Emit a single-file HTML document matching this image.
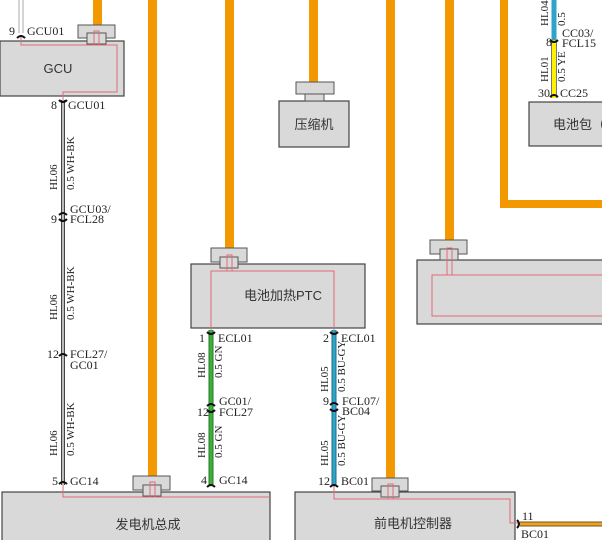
<!DOCTYPE html>
<html><head><meta charset="utf-8"><style>
html,body{margin:0;padding:0;background:#fff;}
svg{display:block;}
text{font-family:"Liberation Serif","Noto Serif CJK SC",serif;fill:#222;}
.cn{font-family:"Liberation Sans","Noto Sans CJK SC",sans-serif;font-size:13px;fill:#333;}
.lb{font-size:12px;}
.sm{font-size:11px;fill:#555;}
</style></head><body>
<svg width="602" height="540" viewBox="0 0 602 540" xmlns="http://www.w3.org/2000/svg">
<g fill="#f39800">
<rect x="93" y="0" width="9" height="26"/>
<rect x="148" y="0" width="9" height="478"/>
<rect x="225" y="0" width="9" height="250"/>
<rect x="309" y="0" width="9" height="84"/>
<rect x="386" y="0" width="9" height="480"/>
<rect x="445" y="0" width="9" height="242"/>
<rect x="500" y="0" width="8" height="208"/>
<rect x="500" y="200" width="102" height="8"/>
</g>
<line x1="19" y1="0" x2="19" y2="33" stroke="#aaa" stroke-width="1"/>
<line x1="23" y1="0" x2="23" y2="33" stroke="#aaa" stroke-width="1"/>
<g fill="#d9d9d9" stroke="#444" stroke-width="1.2">
<rect x="0" y="41" width="124" height="55"/>
<rect x="279" y="101" width="70" height="46"/>
<rect x="191" y="264" width="174" height="64"/>
<rect x="417" y="260" width="190" height="64"/>
<rect x="529" y="102" width="80" height="44"/>
<rect x="2" y="492" width="268" height="52"/>
<rect x="295" y="492" width="220" height="52"/>
</g>
<g fill="#d9d9d9" stroke="#555" stroke-width="1">
<rect x="78" y="25" width="37" height="13"/><rect x="87" y="33" width="19" height="11"/>
<rect x="296" y="82" width="38" height="12"/><rect x="305" y="94" width="19" height="7"/>
<rect x="211" y="248" width="36" height="14"/><rect x="220" y="257" width="18" height="11"/>
<rect x="430" y="240" width="37" height="14"/><rect x="440" y="249" width="18" height="11"/>
<rect x="133" y="476" width="37" height="14"/><rect x="143" y="485" width="18" height="11"/>
<rect x="372" y="478" width="36" height="13"/><rect x="381" y="486" width="18" height="11"/>
</g>
<g fill="none" stroke="#e06b78" stroke-width="1">
<polyline points="21,37 21,45 117,45 117,92 63,92 63,100"/>
<polyline points="94,45 94,31 99,31 99,45"/>
<polyline points="211,330 211,271 334,271 334,330"/>
<polyline points="227,271 227,255 232,255 232,271"/>
<polyline points="602,275 432,275 432,316 602,316"/>
<polyline points="447,275 447,248 452,248 452,275"/>
<polyline points="63,485 63,497 270,497"/>
<polyline points="150,497 150,482 155,482 155,497"/>
<polyline points="334,485 334,499 510,499 510,523 519,523"/>
<polyline points="388,499 388,484 393,484 393,499"/>
</g>
<g stroke-linecap="butt">
<line x1="63" y1="100" x2="63" y2="485" stroke="#444" stroke-width="4"/>
<line x1="63" y1="100" x2="63" y2="485" stroke="#bbb" stroke-width="2"/>
<line x1="211" y1="330" x2="211" y2="486" stroke="#2a7a2a" stroke-width="5"/>
<line x1="211" y1="330" x2="211" y2="486" stroke="#3bb03b" stroke-width="3"/>
<line x1="334" y1="330" x2="334" y2="486" stroke="#1d6f8c" stroke-width="5"/>
<line x1="334" y1="330" x2="334" y2="486" stroke="#2fa4c8" stroke-width="3"/>
<line x1="554" y1="0" x2="554" y2="40" stroke="#2fa4c8" stroke-width="5"/>
<line x1="554" y1="40" x2="554" y2="98" stroke="#777" stroke-width="6"/>
<line x1="554" y1="40" x2="554" y2="98" stroke="#fff200" stroke-width="4"/>
<line x1="520" y1="524" x2="602" y2="524" stroke="#6b5a20" stroke-width="5"/>
<line x1="520" y1="524" x2="602" y2="524" stroke="#f3a020" stroke-width="3"/>
</g>
<g fill="none" stroke="#111" stroke-width="2">
<path d="M17,38 q4,-4 8,0"/><path d="M59,100 q4,4 8,0"/>
<path d="M59,215 q4,-4 8,0"/><path d="M59,219 q4,4 8,0"/>
<path d="M59,356 q4,-4 8,0"/><path d="M59,484 q4,-4 8,0"/>
<path d="M207,332 q4,4 8,0"/><path d="M207,406 q4,-4 8,0"/><path d="M207,410 q4,4 8,0"/><path d="M207,487 q4,-4 8,0"/>
<path d="M330,332 q4,4 8,0"/><path d="M330,405 q4,-4 8,0"/><path d="M330,409 q4,4 8,0"/><path d="M330,487 q4,-4 8,0"/>
<path d="M550,40 q4,4 8,0"/><path d="M550,97 q4,-4 8,0"/>
<path d="M517,520 q4,4 0,8"/>
</g>
<text class="cn" x="58" y="73" text-anchor="middle">GCU</text>
<text class="cn" x="314" y="129" text-anchor="middle">压缩机</text>
<text class="cn" x="283" y="300" text-anchor="middle">电池加热PTC</text>
<text class="cn" x="553" y="129">电池包（</text>
<text class="cn" x="148" y="529" text-anchor="middle">发电机总成</text>
<text class="cn" x="413" y="528" text-anchor="middle">前电机控制器</text>
<g class="lb">
<text x="9" y="35">9</text><text x="27" y="35">GCU01</text>
<text x="51" y="109">8</text><text x="68" y="109">GCU01</text>
<text x="70" y="213">GCU03/</text><text x="51" y="223">9</text><text x="70" y="223">FCL28</text>
<text x="47" y="358">12</text><text x="70" y="358">FCL27/</text><text x="70" y="369">GC01</text>
<text x="52" y="485">5</text><text x="70" y="485">GC14</text>
<text x="199" y="342">1</text><text x="218" y="342">ECL01</text>
<text x="219" y="405">GC01/</text><text x="197" y="416">12</text><text x="219" y="416">FCL27</text>
<text x="201" y="484">4</text><text x="219" y="484">GC14</text>
<text x="323" y="342">2</text><text x="341" y="342">ECL01</text>
<text x="323" y="405">9</text><text x="342" y="405">FCL07/</text><text x="342" y="415">BC04</text>
<text x="318" y="485">12</text><text x="341" y="485">BC01</text>
<text x="562" y="37">CC03/</text><text x="546" y="46">8</text><text x="562" y="47">FCL15</text>
<text x="538" y="97">30</text><text x="560" y="97">CC25</text>
<text x="522" y="520">11</text><text x="521" y="538">BC01</text>
</g>
<g class="sm">
<text transform="translate(57,190) rotate(-90)">HL06</text>
<text transform="translate(74,190) rotate(-90)">0.5 WH-BK</text>
<text transform="translate(57,320) rotate(-90)">HL06</text>
<text transform="translate(74,320) rotate(-90)">0.5 WH-BK</text>
<text transform="translate(57,456) rotate(-90)">HL06</text>
<text transform="translate(74,456) rotate(-90)">0.5 WH-BK</text>
<text transform="translate(205,378) rotate(-90)">HL08</text>
<text transform="translate(222,378) rotate(-90)">0.5 GN</text>
<text transform="translate(205,458) rotate(-90)">HL08</text>
<text transform="translate(222,458) rotate(-90)">0.5 GN</text>
<text transform="translate(328,392) rotate(-90)">HL05</text>
<text transform="translate(345,392) rotate(-90)">0.5 BU-GY</text>
<text transform="translate(328,466) rotate(-90)">HL05</text>
<text transform="translate(345,466) rotate(-90)">0.5 BU-GY</text>
<text transform="translate(548,26) rotate(-90)">HL04</text>
<text transform="translate(565,26) rotate(-90)">0.5</text>
<text transform="translate(548,82) rotate(-90)">HL01</text>
<text transform="translate(565,82) rotate(-90)">0.5 YE</text>
</g>
</svg>
</body></html>
